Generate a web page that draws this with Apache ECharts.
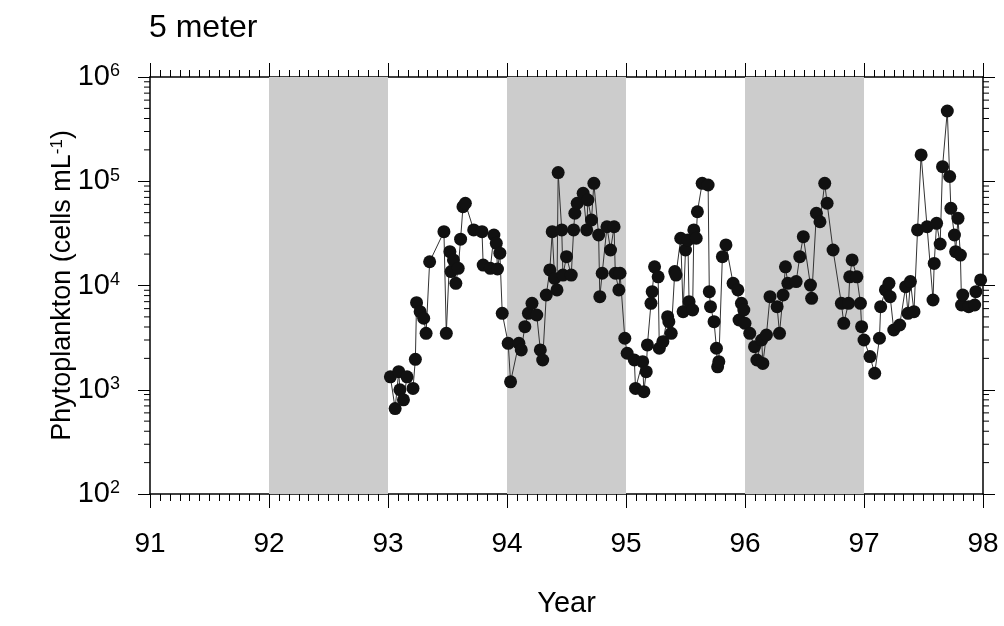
<!DOCTYPE html>
<html>
<head>
<meta charset="utf-8">
<script src="https://cdn.jsdelivr.net/npm/echarts@6/dist/echarts.min.js"></script>
<style>
  html, body { margin: 0; padding: 0; background: #fff; }
  #main { width: 1004px; height: 626px; }
</style>
</head>
<body>
<div id="main"></div>
<script>
// sampling dates (decimal year) and cell counts, one pair of arrays per year
var year93 = [93.02,93.06,93.09,93.10,93.13,93.16,93.21,93.23,93.24,93.27,93.30,93.32,93.35,93.47,93.49,93.52,93.53,93.55,93.57,93.59,93.61,93.63,93.65,93.72,93.79,93.80,93.86,93.89,93.91,93.92,93.94,93.96];
var cells93 = [1330,660,1490,1000,800,1330,1030,1960,6840,5610,4850,3480,16900,32800,3480,21100,13600,17600,10500,14600,27800,57000,61500,34100,32800,15700,14600,30500,25400,14400,20400,5410];

var year94 = [94.01,94.03,94.10,94.12,94.15,94.18,94.21,94.25,94.28,94.30,94.33,94.36,94.38,94.40,94.42,94.43,94.46,94.47,94.50,94.54,94.56,94.57,94.59,94.64,94.67,94.68,94.71,94.73,94.77,94.78,94.80,94.84,94.87,94.90,94.91,94.94,94.95,94.99,95.01];
var cells94 = [2790,1190,2790,2410,4030,5410,6750,5210,2410,1930,8110,14100,32800,11700,9060,121000,34100,12600,18900,12600,34100,49300,61500,76600,34100,66100,42500,95600,30500,7810,13100,36600,21900,36600,13100,9060,13100,3120,2240];

var year95 = [95.07,95.08,95.14,95.15,95.17,95.18,95.21,95.22,95.24,95.27,95.28,95.31,95.35,95.36,95.38,95.41,95.42,95.46,95.48,95.50,95.52,95.53,95.56,95.57,95.59,95.60,95.64,95.69,95.70,95.71,95.74,95.76,95.77,95.78,95.81,95.84,95.90,95.94,95.95,95.97,95.99];
var cells95 = [1930,1030,1860,958,1490,2690,6750,8720,15100,12100,2500,2890,5020,4500,3480,13600,12600,28400,5610,21900,27300,7000,5820,34100,28400,51000,95600,92000,8720,6260,4500,2500,1660,1860,18900,24500,10500,9060,4670,6750,5820];

var year96 = [96.00,96.04,96.08,96.10,96.14,96.15,96.18,96.21,96.27,96.29,96.32,96.34,96.36,96.43,96.46,96.49,96.55,96.56,96.60,96.63,96.67,96.69,96.74,96.81,96.83,96.87,96.88,96.90,96.94,96.97,96.98,97.00];
var cells96 = [4340,3480,2590,1930,3000,1790,3350,7810,6260,3480,8110,15100,10500,10900,18900,29400,10100,7540,49300,40900,95600,61500,21900,6750,4340,6750,12100,17600,12100,6750,4030,3000];

var year97 = [97.05,97.09,97.13,97.14,97.18,97.21,97.22,97.25,97.30,97.35,97.37,97.39,97.42,97.45,97.48,97.53,97.58,97.59,97.61,97.64,97.66,97.70,97.72,97.73,97.76,97.77,97.79,97.81,97.82,97.83,97.88,97.93,97.94,97.98];
var cells97 = [2080,1440,3120,6260,9060,10500,7810,3740,4180,9750,5410,10900,5610,34100,179000,36600,7260,16300,39500,25000,138000,472000,111000,55000,30500,21100,44100,19600,6500,8110,6260,6500,8720,11300];

// shaded years
var shadeStart = [92, 94, 96];
var shadeEnd = [93, 95, 97];

var yearLabels = ['91','92','93','94','95','96','97','98'];

var years = year93.concat(year94, year95, year96, year97);
var cells = cells93.concat(cells94, cells95, cells96, cells97);
var points = [];
for (var i = 0; i < years.length; i++) {
  points.push([years[i], cells[i]]);
}

var bands = [];
for (var j = 0; j < shadeStart.length; j++) {
  bands.push([{ xAxis: shadeStart[j] }, { xAxis: shadeEnd[j] }]);
}

// minor log ticks 2..9 x 10^n, drawn on both y axes
var minorY = [];
for (var d = 2; d < 6; d++) {
  for (var k = 2; k <= 9; k++) minorY.push([91, k * Math.pow(10, d)]);
}

var FONT = 'Liberation Sans, Arial, sans-serif';

var myChart = echarts.init(document.getElementById('main'));

function yAxisBase(pos) {
  return {
    type: 'log',
    logBase: 10,
    min: 100,
    max: 1000000,
    position: pos,
    splitLine: { show: false },
    axisLine: { show: true, onZero: false, lineStyle: { color: '#000', width: 1.5 } },
    axisTick: { show: true, length: 12, lineStyle: { color: '#000', width: 1 } },
    axisLabel: { show: false }
  };
}

var yLeft = yAxisBase('left');
yLeft.name = 'Phytoplankton (cells mL{s|-1})';
yLeft.nameLocation = 'middle';
yLeft.nameGap = 74;
yLeft.nameMoveOverlap = false;
yLeft.nameTextStyle = {
  fontFamily: FONT, fontSize: 27, color: '#000',
  rich: { s: { fontFamily: FONT, fontSize: 17, verticalAlign: 'top', color: '#000' } }
};
yLeft.axisLabel = {
  show: true,
  margin: 30,
  formatter: function (v) {
    return '{b|10}{s|' + Math.round(Math.log10(v)) + '}';
  },
  rich: {
    b: { fontFamily: FONT, fontSize: 29, color: '#000' },
    s: { fontFamily: FONT, fontSize: 18, color: '#000', verticalAlign: 'top' }
  }
};

var yRight = yAxisBase('right');

function xAxisBase(pos) {
  return {
    type: 'value',
    min: 91,
    max: 98,
    interval: 1,
    position: pos,
    splitLine: { show: false },
    axisLine: { show: true, onZero: false, lineStyle: { color: '#000', width: 1.5 } },
    axisTick: { show: true, length: 14, lineStyle: { color: '#000', width: 1 } },
    minorTick: { show: true, splitNumber: 12, length: 7, lineStyle: { color: '#000', width: 1 } },
    axisLabel: { show: false }
  };
}

var xBottom = xAxisBase('bottom');
xBottom.name = 'Year';
xBottom.nameLocation = 'middle';
xBottom.nameGap = 95;
xBottom.nameMoveOverlap = false;
xBottom.nameTextStyle = { fontFamily: FONT, fontSize: 29, color: '#000' };
xBottom.axisLabel = {
  show: true,
  margin: 36,
  fontFamily: FONT,
  fontSize: 28,
  color: '#000',
  formatter: function (v) { return yearLabels[Math.round(v) - 91]; }
};
var xTop = xAxisBase('top');

myChart.setOption({
  animation: false,
  backgroundColor: '#fff',
  title: {
    text: '5 meter',
    left: 144,
    top: 7,
    textStyle: { fontFamily: FONT, fontSize: 32, fontWeight: 'normal', color: '#000' }
  },
  grid: { left: 150, right: 21, top: 77, bottom: 132 },
  xAxis: [xBottom, xTop],
  yAxis: [yLeft, yRight],
  series: [
    {
      name: 'Phytoplankton',
      type: 'line',
      xAxisIndex: 0,
      yAxisIndex: 0,
      data: points,
      symbol: 'circle',
      symbolSize: 13,
      itemStyle: { color: '#111' },
      lineStyle: { color: '#333', width: 1 },
      markArea: {
        silent: true,
        itemStyle: { color: '#cccccc' },
        data: bands
      },
      z: 3
    },
    {
      // short minor ticks outside the left and right frame
      type: 'custom',
      xAxisIndex: 0,
      yAxisIndex: 0,
      silent: true,
      clip: false,
      data: minorY,
      renderItem: function (params, api) {
        var pl = api.coord([91, api.value(1)]);
        var pr = api.coord([98, api.value(1)]);
        return {
          type: 'group',
          children: [
            { type: 'line', shape: { x1: pl[0] - 6, y1: pl[1], x2: pl[0], y2: pl[1] }, style: { stroke: '#000', lineWidth: 1 } },
            { type: 'line', shape: { x1: pr[0], y1: pr[1], x2: pr[0] + 6, y2: pr[1] }, style: { stroke: '#000', lineWidth: 1 } }
          ]
        };
      },
      z: 1
    }
  ]
});
</script>
</body>
</html>
